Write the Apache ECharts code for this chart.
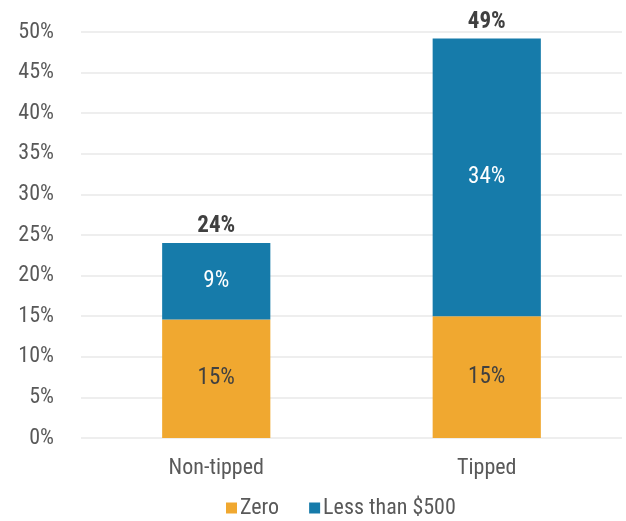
<!DOCTYPE html>
<html>
<head>
<meta charset="utf-8">
<script src="https://cdn.jsdelivr.net/npm/echarts@6/dist/echarts.min.js"></script>
<style>
  html, body { margin: 0; padding: 0; background: #fff; }
  #chart { width: 626px; height: 521px; }
</style>
</head>
<body>
<div id="chart"></div>
<script>
// data
var categories = ['Non-tipped', 'Tipped'];
var zeroValues = [14.6, 15.0];
var lessValues = [9.4, 34.2];
var totalLabels = ['24%', '49%'];
var zeroLabels = ['15%', '15%'];
var lessLabels = ['9%', '34%'];

var FONT = '"Liberation Sans Narrow", "Roboto Condensed", Roboto, sans-serif';

var chart = echarts.init(document.getElementById('chart'));
var option = {
    textStyle: { fontFamily: FONT },
    animation: false,
    grid: { left: 81, right: 4, top: 32, bottom: 83 },
    legend: {
        data: ['Zero', 'Less than $500'],
        left: 221,
        bottom: -3,
        itemWidth: 11,
        itemHeight: 11,
        itemGap: 30,
        icon: 'rect',
        textStyle: { fontFamily: FONT, fontSize: 22, color: '#595959', padding: [0, 0, 0, -2] }
    },
    xAxis: {
        type: 'category',
        data: categories,
        axisLine: { show: false },
        axisTick: { show: false },
        axisLabel: { fontFamily: FONT, fontSize: 22, color: '#595959', margin: 19 }
    },
    yAxis: {
        type: 'value',
        min: 0,
        max: 50,
        interval: 5,
        axisLabel: {
            formatter: '{value}%',
            fontFamily: FONT, fontSize: 22, color: '#595959', margin: 27
        },
        splitLine: { lineStyle: { color: '#e8e8e8', width: 1.5 } }
    },
    series: [
        {
            name: 'Zero',
            type: 'bar',
            stack: 'all',
            barWidth: '40%',
            itemStyle: { color: '#F0A830' },
            label: {
                show: true, position: 'inside',
                fontFamily: FONT, fontSize: 23, color: '#404040',
                formatter: function (p) { return zeroLabels[p.dataIndex]; }
            },
            data: zeroValues
        },
        {
            name: 'Less than $500',
            type: 'bar',
            stack: 'all',
            itemStyle: { color: '#167BAA' },
            label: {
                show: true, position: 'inside',
                fontFamily: FONT, fontSize: 23, color: '#ffffff',
                formatter: function (p) { return lessLabels[p.dataIndex]; }
            },
            data: lessValues
        },
        {
            name: 'Total',
            type: 'bar',
            stack: 'all',
            itemStyle: { color: 'transparent' },
            label: {
                show: true, position: 'top', distance: 5,
                fontFamily: FONT, fontSize: 23, fontWeight: 'bold', color: '#404040',
                formatter: function (p) { return totalLabels[p.dataIndex]; }
            },
            data: [0, 0]
        }
    ]
};
chart.setOption(option);
</script>
</body>
</html>
